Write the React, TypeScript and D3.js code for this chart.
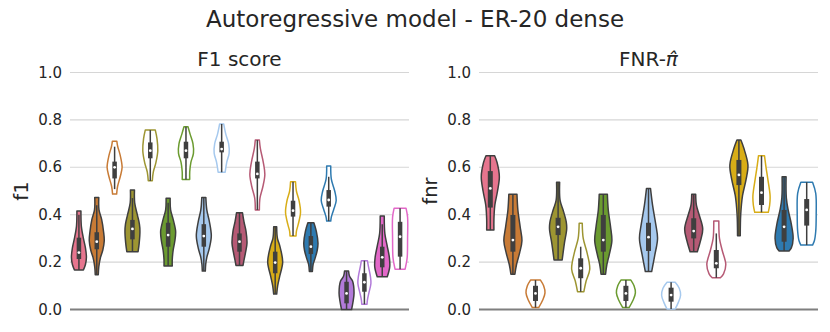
import React from "react";
import * as d3 from "d3";

// seaborn-ish colours
const pink = "#e6758e";
const orange = "#c87b36";
const olive = "#9d9532";
const green = "#6b9b30";
const lightblue = "#a6c9ee";
const rasp = "#b65a75";
const gold = "#d8ad17";
const blue = "#2e7ab0";
const purple = "#b27ad9";
const magenta = "#e268c8";

// F1 score panel: one entry per violin, left to right
const f1Colors = [pink, orange, orange, olive, olive, green, green, lightblue, lightblue, rasp, rasp, gold, gold, blue, blue, purple, purple, magenta, magenta];
const f1Filled = [true, true, false, true, false, true, false, true, false, true, false, true, false, true, false, true, false, true, false];
// [whisker low, q1, median, q3, whisker high]
const f1Stats = [
  [0.167, 0.213, 0.24, 0.303, 0.4],
  [0.147, 0.254, 0.286, 0.326, 0.44],
  [0.508, 0.553, 0.6, 0.624, 0.687],
  [0.244, 0.296, 0.34, 0.378, 0.47],
  [0.543, 0.638, 0.67, 0.705, 0.757],
  [0.184, 0.265, 0.314, 0.366, 0.45],
  [0.549, 0.638, 0.67, 0.708, 0.771],
  [0.162, 0.265, 0.31, 0.36, 0.47],
  [0.579, 0.663, 0.677, 0.708, 0.783],
  [0.186, 0.244, 0.286, 0.321, 0.408],
  [0.42, 0.553, 0.572, 0.624, 0.715],
  [0.065, 0.153, 0.198, 0.244, 0.349],
  [0.31, 0.392, 0.417, 0.459, 0.539],
  [0.16, 0.234, 0.265, 0.31, 0.366],
  [0.373, 0.434, 0.462, 0.504, 0.56],
  [0.0, 0.026, 0.068, 0.117, 0.162],
  [0.022, 0.075, 0.115, 0.153, 0.206],
  [0.138, 0.178, 0.22, 0.265, 0.36],
  [0.17, 0.223, 0.307, 0.37, 0.427],
];
// density outline: [value, relative width], top to bottom
const f1Profiles = [
  [[0.416, 0.27], [0.4, 0.27], [0.35, 0.33], [0.3, 0.6], [0.26, 0.87], [0.22, 1.0], [0.19, 0.87], [0.167, 0.6]],
  [[0.473, 0.27], [0.42, 0.3], [0.38, 0.65], [0.33, 0.9], [0.29, 1.0], [0.25, 0.8], [0.22, 0.5], [0.18, 0.27], [0.147, 0.2]],
  [[0.71, 0.3], [0.69, 0.4], [0.65, 0.75], [0.6, 1.0], [0.56, 0.75], [0.52, 0.4], [0.487, 0.27]],
  [[0.504, 0.27], [0.45, 0.3], [0.4, 0.65], [0.36, 0.93], [0.33, 1.0], [0.28, 0.9], [0.244, 0.75]],
  [[0.757, 0.67], [0.72, 0.9], [0.67, 1.0], [0.62, 0.75], [0.58, 0.4], [0.543, 0.27]],
  [[0.469, 0.27], [0.42, 0.33], [0.38, 0.67], [0.33, 1.0], [0.29, 0.9], [0.25, 0.67], [0.21, 0.55], [0.184, 0.55]],
  [[0.771, 0.27], [0.74, 0.55], [0.7, 0.93], [0.66, 1.0], [0.62, 0.65], [0.58, 0.5], [0.549, 0.5]],
  [[0.473, 0.27], [0.42, 0.4], [0.37, 0.75], [0.31, 1.0], [0.26, 0.75], [0.22, 0.4], [0.19, 0.25], [0.162, 0.2]],
  [[0.783, 0.27], [0.74, 0.55], [0.7, 0.93], [0.66, 1.0], [0.62, 0.67], [0.579, 0.47]],
  [[0.408, 0.4], [0.37, 0.6], [0.33, 0.87], [0.28, 1.0], [0.24, 0.8], [0.2, 0.55], [0.186, 0.47]],
  [[0.715, 0.27], [0.68, 0.4], [0.62, 0.8], [0.57, 1.0], [0.52, 0.75], [0.47, 0.35], [0.42, 0.27]],
  [[0.349, 0.2], [0.3, 0.3], [0.27, 0.6], [0.2, 1.0], [0.14, 0.6], [0.1, 0.33], [0.065, 0.2]],
  [[0.539, 0.33], [0.5, 0.45], [0.46, 0.8], [0.41, 1.0], [0.36, 0.7], [0.33, 0.45], [0.31, 0.4]],
  [[0.366, 0.4], [0.33, 0.73], [0.28, 0.95], [0.25, 0.85], [0.22, 0.6], [0.19, 0.3], [0.16, 0.2]],
  [[0.605, 0.27], [0.55, 0.35], [0.5, 0.8], [0.46, 1.0], [0.42, 0.65], [0.39, 0.35], [0.373, 0.27]],
  [[0.162, 0.27], [0.14, 0.4], [0.12, 0.8], [0.07, 1.0], [0.03, 0.85], [0.0, 0.67]],
  [[0.206, 0.4], [0.18, 0.55], [0.14, 0.8], [0.11, 0.87], [0.07, 0.6], [0.04, 0.4], [0.022, 0.35]],
  [[0.395, 0.27], [0.32, 0.35], [0.27, 0.65], [0.22, 0.95], [0.18, 1.0], [0.138, 0.67]],
  [[0.427, 0.8], [0.39, 1.0], [0.3, 1.0], [0.22, 0.95], [0.19, 0.8], [0.17, 0.67]],
];

// FNR panel
const fnrColors = [pink, orange, orange, olive, olive, green, green, lightblue, lightblue, rasp, rasp, gold, gold, blue, blue];
const fnrFilled = [true, true, false, true, false, true, false, true, false, true, false, true, false, true, false];
const fnrStats = [
  [0.335, 0.43, 0.511, 0.584, 0.649],
  [0.149, 0.244, 0.293, 0.399, 0.486],
  [0.008, 0.036, 0.068, 0.1, 0.124],
  [0.209, 0.314, 0.349, 0.387, 0.537],
  [0.075, 0.132, 0.174, 0.216, 0.265],
  [0.149, 0.244, 0.293, 0.399, 0.486],
  [0.008, 0.036, 0.068, 0.1, 0.124],
  [0.16, 0.247, 0.305, 0.366, 0.511],
  [0.002, 0.033, 0.061, 0.092, 0.115],
  [0.244, 0.3, 0.331, 0.385, 0.486],
  [0.134, 0.174, 0.195, 0.251, 0.321],
  [0.311, 0.525, 0.568, 0.631, 0.715],
  [0.41, 0.441, 0.493, 0.56, 0.649],
  [0.247, 0.286, 0.349, 0.42, 0.56],
  [0.272, 0.354, 0.42, 0.466, 0.537],
];
const fnrProfiles = [
  [[0.649, 0.48], [0.62, 0.75], [0.56, 1.0], [0.5, 0.8], [0.44, 0.5], [0.38, 0.4], [0.335, 0.4]],
  [[0.486, 0.45], [0.42, 0.55], [0.35, 0.8], [0.29, 1.0], [0.24, 0.75], [0.19, 0.4], [0.149, 0.22]],
  [[0.124, 0.55], [0.1, 0.9], [0.07, 1.05], [0.04, 0.8], [0.008, 0.35]],
  [[0.537, 0.17], [0.46, 0.22], [0.42, 0.55], [0.37, 0.9], [0.34, 0.95], [0.28, 0.7], [0.209, 0.45]],
  [[0.364, 0.17], [0.3, 0.28], [0.24, 0.7], [0.17, 1.0], [0.12, 0.6], [0.075, 0.35]],
  [[0.486, 0.45], [0.42, 0.55], [0.35, 0.8], [0.29, 0.95], [0.23, 0.65], [0.19, 0.4], [0.149, 0.25]],
  [[0.124, 0.55], [0.1, 0.9], [0.07, 1.05], [0.04, 0.8], [0.008, 0.35]],
  [[0.511, 0.22], [0.44, 0.45], [0.36, 0.8], [0.3, 1.0], [0.23, 0.7], [0.16, 0.35]],
  [[0.115, 0.45], [0.09, 0.9], [0.06, 1.05], [0.03, 0.8], [0.002, 0.45]],
  [[0.486, 0.22], [0.44, 0.3], [0.4, 0.6], [0.34, 1.0], [0.29, 0.75], [0.244, 0.4]],
  [[0.373, 0.28], [0.3, 0.35], [0.25, 0.65], [0.19, 1.05], [0.15, 0.8], [0.134, 0.45]],
  [[0.715, 0.22], [0.68, 0.55], [0.61, 1.0], [0.55, 0.8], [0.48, 0.4], [0.4, 0.2], [0.311, 0.15]],
  [[0.649, 0.33], [0.6, 0.5], [0.55, 0.7], [0.48, 0.95], [0.44, 0.9], [0.41, 0.75]],
  [[0.56, 0.22], [0.47, 0.25], [0.42, 0.45], [0.36, 0.8], [0.3, 1.0], [0.26, 0.8], [0.247, 0.55]],
  [[0.537, 0.65], [0.49, 1.0], [0.4, 1.05], [0.33, 1.0], [0.29, 0.85], [0.272, 0.65]],
];

const yTicks = [0, 0.2, 0.4, 0.6, 0.8, 1.0];

const FONT = "DejaVu Sans, sans-serif";
const TEXT = "#262626";
const DARK = "#3f3f3f";

function Panel(props) {
  const { x0, x1, widthFrac, boxW, title, ylabel, colors, filled, stats, profiles } = props;
  const y = d3.scaleLinear().domain([0, 1]).range([309.5, 72.5]);
  const x = d3
    .scaleBand()
    .domain(colors.map((_, i) => String(i)))
    .range([x0, x1]);
  const bw = x.bandwidth();
  const half = d3.scaleLinear().domain([0, 1]).range([0, bw * widthFrac]);

  const area = d3
    .area()
    .y((d) => y(d[0]))
    .x0((d) => -half(d[1]))
    .x1((d) => half(d[1]))
    .curve(d3.curveCatmullRom);

  return (
    <g>
      {yTicks.map((t) => (
        <g key={t}>
          <line
            x1={x0}
            x2={x1}
            y1={y(t)}
            y2={y(t)}
            stroke={t === 0 ? "#7f7f7f" : "#d6d6d6"}
            strokeWidth={t === 0 ? 2 : 1.1}
          />
          <text
            x={x0 - 8}
            y={y(t)}
            textAnchor="end"
            dominantBaseline="central"
            fontSize={15}
            fill={TEXT}>
            {t.toFixed(1)}
          </text>
        </g>
      ))}
      <text x={(x0 + x1) / 2} y={66} textAnchor="middle" fontSize={20} fill={TEXT}>
        {title}
      </text>
      <text
        transform={`translate(${x0 - 49}, ${y(0.5)}) rotate(-90)`}
        textAnchor="middle"
        dominantBaseline="central"
        fontSize={19.5}
        fill={TEXT}>
        {ylabel}
      </text>
      {colors.map((c, i) => {
        const cx = x(String(i)) + bw / 2;
        const [wl, q1, med, q3, wh] = stats[i];
        const isFilled = filled[i];
        return (
          <g key={i} transform={`translate(${cx},0)`}>
            <path
              d={area(profiles[i])}
              fill={isFilled ? c : "#ffffff"}
              stroke={isFilled ? DARK : c}
              strokeWidth={1.5}
              strokeLinejoin="round"
            />
            <line x1={0} x2={0} y1={y(wl)} y2={y(wh)} stroke={DARK} strokeWidth={1.5} />
            <rect x={-boxW / 2} width={boxW} y={y(q3)} height={y(q1) - y(q3)} fill={DARK} />
            <circle cx={0} cy={y(med)} r={1.4} fill="#ffffff" />
          </g>
        );
      })}
    </g>
  );
}

export default function App() {
  return (
    <svg
      width={830}
      height={332}
      style={{ position: "absolute", left: 0, top: 0, background: "#ffffff" }}
      fontFamily={FONT}>
      <rect width={830} height={332} fill="#ffffff" />
      <text x={415} y={27} textAnchor="middle" fontSize={23} fill={TEXT}>
        Autoregressive model - ER-20 dense
      </text>
      <Panel
        x0={70}
        x1={409}
        widthFrac={0.42}
        boxW={4.5}
        title="F1 score"
        ylabel="f1"
        colors={f1Colors}
        filled={f1Filled}
        stats={f1Stats}
        profiles={f1Profiles}
      />
      <Panel
        x0={479}
        x1={818}
        widthFrac={0.4}
        boxW={5}
        title={
          <>
            FNR-<tspan fontStyle="italic">π̂</tspan>
          </>
        }
        ylabel="fnr"
        colors={fnrColors}
        filled={fnrFilled}
        stats={fnrStats}
        profiles={fnrProfiles}
      />
    </svg>
  );
}
